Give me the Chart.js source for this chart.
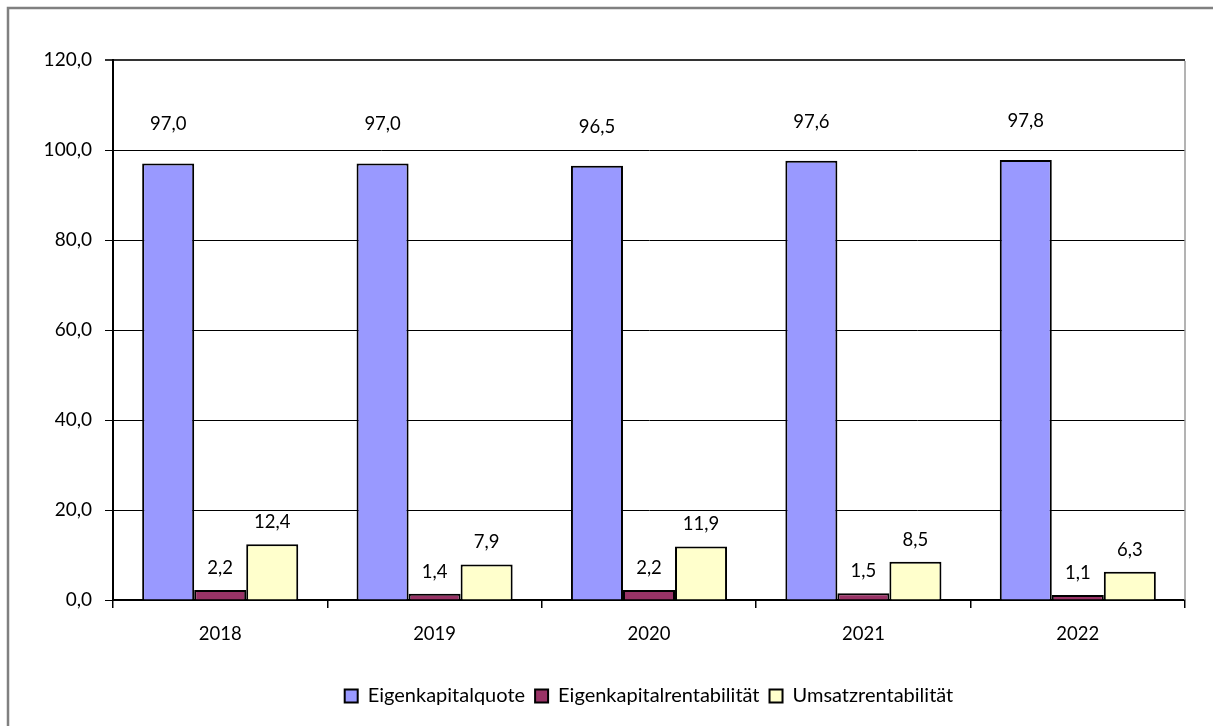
<!DOCTYPE html>
<html>
<head>
<meta charset="utf-8">
<script src="https://cdn.jsdelivr.net/npm/chart.js@4/dist/chart.umd.min.js"></script>
<style>
html,body{margin:0;padding:0;background:#fff;}
#wrap{position:relative;width:1213px;height:726px;}
</style>
</head>
<body>
<div id="wrap"><canvas id="c" width="1213" height="726"></canvas></div>
<script>
const categories = ['2018', '2019', '2020', '2021', '2022'];
const eigenkapitalquote = [97.0, 97.0, 96.5, 97.6, 97.8];
const eigenkapitalrentabilitaet = [2.2, 1.4, 2.2, 1.5, 1.1];
const umsatzrentabilitaet = [12.4, 7.9, 11.9, 8.5, 6.3];
const seriesNames = ['Eigenkapitalquote', 'Eigenkapitalrentabilität', 'Umsatzrentabilität'];
const yTicks = [0, 20, 40, 60, 80, 100, 120];

const FONT = 'Lato';
const fmt = v => v.toFixed(1).replace('.', ',');

const frame = {
  id: 'frame',
  afterLayout(chart) {
    const lg = chart.legend, a = chart.chartArea;
    if (lg) {
      lg.left = a.left;
      lg.right = a.right;
      lg.width = a.right - a.left;
    }
  },
  beforeDraw(chart) {
    const ctx = chart.ctx;
    ctx.save();
    ctx.fillStyle = '#fff';
    ctx.fillRect(0, 0, chart.width, chart.height);
    ctx.strokeStyle = '#808080';
    ctx.lineWidth = 2.5;
    ctx.beginPath();
    ctx.moveTo(8, chart.height + 5);
    ctx.lineTo(8, 8);
    ctx.lineTo(chart.width + 5, 8);
    ctx.stroke();
    ctx.restore();
  },
  afterDraw(chart) {
    const a = chart.chartArea, ctx = chart.ctx;
    ctx.save();
    ctx.strokeStyle = '#9a9a9a';
    ctx.lineWidth = 1.5;
    ctx.beginPath();
    ctx.moveTo(a.right, a.top + 1);
    ctx.lineTo(a.right, a.bottom);
    ctx.stroke();
    ctx.restore();
  }
};

const labelOffsets = [39, 22, 22];
const valueLabels = {
  id: 'valueLabels',
  afterDatasetsDraw(chart) {
    const ctx = chart.ctx;
    ctx.save();
    ctx.font = '18.5px ' + FONT;
    ctx.fillStyle = '#000';
    ctx.textAlign = 'center';
    ctx.textBaseline = 'middle';
    chart.data.datasets.forEach((ds, i) => {
      const meta = chart.getDatasetMeta(i);
      meta.data.forEach((el, j) => {
        ctx.fillText(fmt(ds.data[j]), el.x, el.y - labelOffsets[i]);
      });
    });
    ctx.restore();
  }
};

new Chart(document.getElementById('c'), {
  type: 'bar',
  data: {
    labels: categories,
    datasets: [
      { label: seriesNames[0], data: eigenkapitalquote, backgroundColor: '#9999FF', borderColor: '#000', borderWidth: 2 },
      { label: seriesNames[1], data: eigenkapitalrentabilitaet, backgroundColor: '#993366', borderColor: '#000', borderWidth: 2 },
      { label: seriesNames[2], data: umsatzrentabilitaet, backgroundColor: '#FFFFCC', borderColor: '#000', borderWidth: 2 }
    ]
  },
  options: {
    responsive: false,
    animation: false,
    devicePixelRatio: 1,
    layout: { padding: { top: 60, right: 28, left: 0, bottom: 10 } },
    datasets: { bar: { barPercentage: 1, categoryPercentage: 0.728 } },
    plugins: {
      tooltip: { enabled: false },
      legend: {
        position: 'bottom',
        labels: {
          font: { family: FONT, size: 20 },
          color: '#000',
          boxWidth: 13,
          boxHeight: 13,
          padding: 10
        }
      }
    },
    scales: {
      x: {
        grid: { display: true, drawOnChartArea: false, offset: true, color: '#000', lineWidth: 1.5, tickLength: 8 },
        border: { display: true, color: '#000', width: 2 },
        ticks: { font: { family: FONT, size: 18.5 }, color: '#000', padding: 15, maxRotation: 0 },
        afterFit(s) { s.height = 76; }
      },
      y: {
        min: 0, max: 120,
        afterBuildTicks(s) { s.ticks = yTicks.map(v => ({ value: v })); },
        grid: {
          color: ctx => (ctx.tick && ctx.tick.value === 120) ? '#333' : '#000',
          lineWidth: ctx => (ctx.tick && ctx.tick.value === 120) ? 2 : 1,
          tickLength: 8
        },
        border: { display: true, color: '#000', width: 2 },
        ticks: { font: { family: FONT, size: 19 }, color: '#000', padding: 13, callback: v => fmt(v) },
        afterFit(s) { s.width = 113; }
      }
    }
  },
  plugins: [frame, valueLabels]
});
</script>
</body>
</html>
